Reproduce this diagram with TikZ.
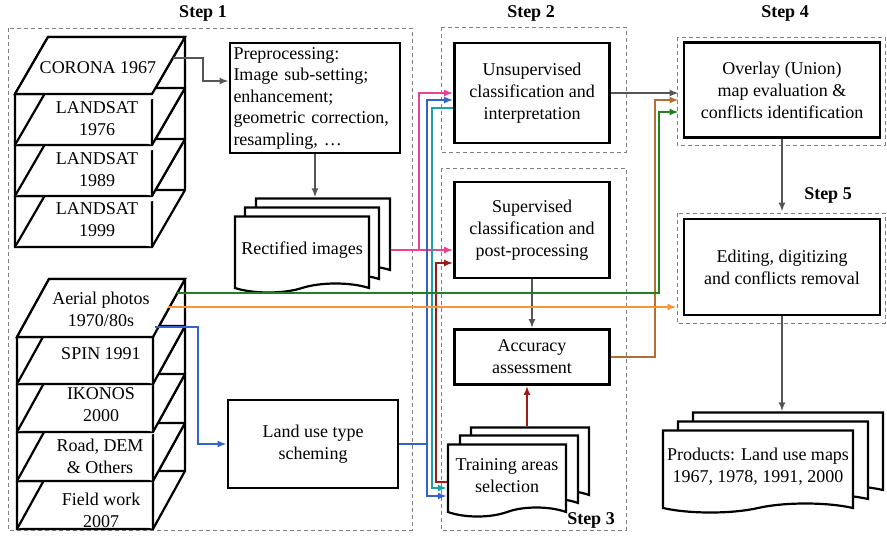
\documentclass[tikz,border=0pt]{standalone}
\usepackage{fontspec}
\setmainfont{Liberation Serif}
\usepackage{tikz}
\usetikzlibrary{positioning}
\usetikzlibrary{arrows.meta}
\usetikzlibrary{shapes.symbols}
\definecolor{pinkc}{RGB}{236,64,145}
\definecolor{bluec}{RGB}{50,100,200}
\definecolor{tealc}{RGB}{30,160,165}
\definecolor{redc}{RGB}{160,25,25}
\definecolor{greenc}{RGB}{30,130,30}
\definecolor{orangec}{RGB}{245,150,60}
\definecolor{brownc}{RGB}{180,110,50}
\definecolor{grayc}{RGB}{85,85,85}

\begin{document}
\begin{tikzpicture}[x=1pt, y=-1pt,
    every node/.style = {font=\fontsize{18}{22}\selectfont},
    box/.style = {draw, line width=2.8pt, fill=white, align=center, inner sep=2pt},
    doc/.style = {tape, tape bend top=none, tape bend bottom=in and out, tape bend height=9pt,
                  draw, line width=2.2pt, fill=white, align=center, inner sep=2pt},
    frame/.style = {draw=gray, line width=1pt, dash pattern=on 4pt off 3pt},
    steplabel/.style = {font=\fontsize{18}{22}\selectfont\bfseries},
    slab/.style = {line width=2.2pt, fill=white},
    link/.style = {line width=2.3pt, -{Latex[length=9pt,width=7pt]}},
    grayarrow/.style = {link, draw=grayc},
    pinkarrow/.style = {link, draw=pinkc},
    bluearrow/.style = {link, draw=bluec},
    tealarrow/.style = {link, draw=tealc},
    redarrow/.style = {link, draw=redc},
    greenarrow/.style = {link, draw=greenc},
    orangearrow/.style = {link, draw=orangec},
    brownarrow/.style = {link, draw=brownc}]
  \useasboundingbox (0,0) rectangle (887,536);

  % dashed step frames
  \draw[frame] (8,28) rectangle (412,530);
  \draw[frame] (441,27) rectangle (626,152);
  \draw[frame] (441,168) rectangle (626,530);
  \draw[frame] (677,37) rectangle (885,145);
  \draw[frame] (677,213) rectangle (885,323);
  \node[steplabel] (s1) at (203,13) {Step 1};
  \node[steplabel] (s2) at (531,13) {Step 2};
  \node[steplabel] (s4) at (785,13) {Step 4};
  \node[steplabel] (s5) at (828,195) {Step 5};

  % image stack
  \foreach \ya/\yb in {196/247, 145/196, 94/145} {
    \filldraw[slab] (15,\ya) -- (15,\yb) -- (152,\yb) -- (185,{\yb-57}) -- (185,{\ya-57}) -- (48,{\ya-57}) -- cycle;
    \draw[slab] (15,\ya) -- (152,\ya) -- (152,\yb) (152,\ya) -- (185,{\ya-57});
    \draw[slab] (15,\yb) -- (48,{\yb-57}) -- (185,{\yb-57});
  }
  \filldraw[slab] (15,94) -- (152,94) -- (185,37) -- (48,37) -- cycle;
  \node (corona) at (98,68) {CORONA 1967};
  \node[align=center] (lsA) at (97,119) {LANDSAT\\1976};
  \node[align=center] (lsB) at (97,170) {LANDSAT\\1989};
  \node[align=center] (lsC) at (97,220) {LANDSAT\\1999};

  % ancillary data stack
  \foreach \ya/\yb in {481/529, 432/481, 384/432, 337/384} {
    \filldraw[slab] (17,\ya) -- (17,\yb) -- (153,\yb) -- (185,{\yb-58}) -- (185,{\ya-58}) -- (49,{\ya-58}) -- cycle;
    \draw[slab] (17,\ya) -- (153,\ya) -- (153,\yb) (153,\ya) -- (185,{\ya-58});
    \draw[slab] (17,\yb) -- (49,{\yb-58}) -- (185,{\yb-58});
  }
  \filldraw[slab] (17,337) -- (153,337) -- (185,279) -- (49,279) -- cycle;
  \node[align=center] (aerial) at (101,309) {Aerial photos\\1970/80s};
  \node (spin) at (101,354) {SPIN 1991};
  \node[align=center] (ikonos) at (101,405) {IKONOS\\2000};
  \node[align=center] (road) at (100,456) {Road, DEM\\\& Others};
  \node[align=center] (field) at (101,510) {Field work\\2007};

  % process boxes
  \node[box, minimum width=170pt, minimum height=110pt, text width=163pt, align=left,
        font=\fontsize{18}{21.5}\selectfont] (prep) at (315,98)
    {Preprocessing:\\Image sub-setting;\\enhancement;\\geometric correction,\\resampling, \ldots};
  \node[box, minimum width=170pt, minimum height=88pt] (landuse) at (313,444) {Land use type\\scheming};
  \node[box, minimum width=155pt, minimum height=100pt] (unsup) at (532,93) {Unsupervised\\classification and\\interpretation};
  \node[box, minimum width=155pt, minimum height=96pt] (sup) at (532,230) {Supervised\\classification and\\post-processing};
  \node[box, minimum width=155pt, minimum height=55pt] (acc) at (532,357) {Accuracy\\assessment};
  \node[box, minimum width=196pt, minimum height=95pt] (overlay) at (782,90) {Overlay (Union)\\map evaluation \&\\conflicts identification};
  \node[box, minimum width=196pt, minimum height=96pt] (edit) at (782,267) {Editing, digitizing\\and conflicts removal};

  % document stacks
  \node[doc, minimum width=134pt, minimum height=76pt] (rectB) at (323,232) {};
  \node[doc, minimum width=134pt, minimum height=76pt] (rectM) at (312,241) {};
  \node[doc, minimum width=134pt, minimum height=76pt] (rectF) at (302,250) {Rectified images};
  \node[doc, minimum width=118pt, minimum height=72pt] (trainB) at (530,459) {};
  \node[doc, minimum width=118pt, minimum height=72pt] (trainM) at (519,467) {};
  \node[doc, minimum width=118pt, minimum height=72pt] (trainF) at (507,476) {Training areas\\selection};
  \node[doc, minimum width=190pt, minimum height=82pt] (prodB) at (788,449) {};
  \node[doc, minimum width=190pt, minimum height=82pt] (prodM) at (773,458) {};
  \node[doc, minimum width=190pt, minimum height=82pt] (prodF) at (758,467) {Products: Land use maps\\1967, 1978, 1991, 2000};
  \node[steplabel] (s3) at (591,520) {Step 3};

  % free ends and bus lines
  \coordinate (coronaOut) at (173,58);
  \coordinate (aerialG) at (177,293);
  \coordinate (aerialO) at (168,307);
  \coordinate (aerialB) at (155,327);
  \coordinate (busP) at (419,300);
  \coordinate (busB) at (427,300);
  \coordinate (busT) at (432,300);
  \coordinate (busR) at (436,300);
  \coordinate (busN) at (655,200);
  \coordinate (busG) at (659,200);

  \draw[grayarrow] (coronaOut) -- ++(30,0) |- ([yshift=17pt]prep.west);
  \draw[grayarrow] (prep.south) -- (prep.south |- rectB.north);
  \draw[grayarrow] (sup.south) -- (acc.north);
  \draw[grayarrow, shorten >=4pt] (unsup.east) -- (overlay.west |- unsup.east);
  \draw[grayarrow, shorten >=6pt] (overlay.south) -- (edit.north);
  \draw[grayarrow] (edit.south) -- (edit.south |- prodB.north);

  \draw[pinkarrow] (rectB.east |- rectF.center) -- (sup.west |- rectF.center);
  \draw[pinkarrow] (busP |- rectF.center) |- (unsup.west);
  \draw[bluearrow] (aerialB) -- ++(43,0) |- (landuse.west);
  \draw[bluearrow] (landuse.east) -| (busB) |- ([yshift=-7pt]unsup.west);
  \draw[bluearrow] (landuse.east -| busB) |- ([yshift=-20pt]trainF.west);
  \draw[tealarrow] ([yshift=-15pt]unsup.west) -| (busT) |- ([yshift=-12pt]trainF.west);
  \draw[redarrow] ([yshift=-6pt]trainF.west) -| (busR) |- ([yshift=-33pt]sup.west);
  \draw[redarrow] ([xshift=-5pt]acc.south |- trainB.north) -- ([xshift=-5pt]acc.south);
  \draw[brownarrow, shorten >=4pt] (acc.east) -| (busN) |- ([yshift=-10pt]overlay.west);
  \draw[greenarrow, shorten >=4pt] (aerialG) -| (busG) |- ([yshift=-22pt]overlay.west);
  \draw[orangearrow, shorten >=6pt] (aerialO) -- (aerialO -| edit.west);
\end{tikzpicture}
\end{document}
